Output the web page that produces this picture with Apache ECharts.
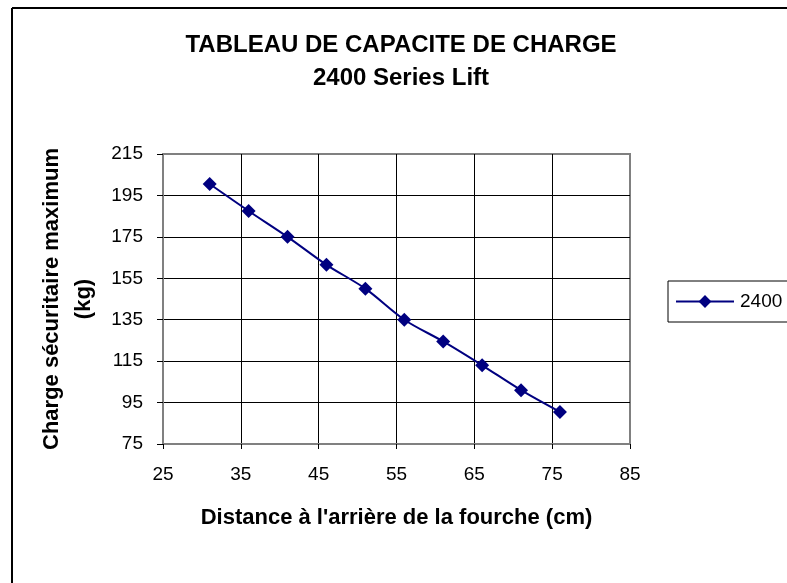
<!DOCTYPE html>
<html lang="fr" style="height: 100%">
<head>
  <meta charset="utf-8">
</head>
<body style="height: 100%; margin: 0">
  <div id="container" style="width: 787px; height: 583px"></div>
  <script type="text/javascript" src="https://cdn.jsdelivr.net/npm/echarts@6/dist/echarts.min.js"></script>
  <script>
    // données
    var distances = [31, 36, 41, 46, 51, 56, 61, 66, 71, 76];
    var charge2400 = [200.5, 187.5, 175, 161.5, 150, 135, 124.5, 113, 101, 90.5];
    var seriesName = '2400';

    var dom = document.getElementById('container');
    var myChart = echarts.init(dom, null, { renderer: 'canvas' });

    var font = 'Liberation Sans, Arial, sans-serif';
    var points = distances.map(function (d, i) { return [d, charge2400[i]]; });

    var option = {
      animation: false,
      backgroundColor: '#fff',
      title: {
        text: 'TABLEAU DE CAPACITE DE CHARGE\n2400 Series Lift',
        left: 396,
        textAlign: 'center',
        top: 24,
        textStyle: {
          fontFamily: font,
          fontWeight: 'bold',
          fontSize: 24,
          lineHeight: 33,
          color: '#000'
        }
      },
      legend: {
        data: [seriesName],
        left: 668,
        top: 281,
        orient: 'vertical',
        borderColor: '#000',
        borderWidth: 1,
        padding: [11, 40, 11, 7],
        itemWidth: 58,
        itemHeight: 16,
        itemGap: 0,
        textStyle: { fontFamily: font, fontSize: 19, color: '#000', padding: [0, 0, 0, 1] }
      },
      grid: {
        left: 163,
        right: 157,
        top: 154,
        bottom: 139,
        show: true,
        borderColor: '#808080',
        borderWidth: 2,
        backgroundColor: '#fff'
      },
      xAxis: {
        type: 'value',
        min: 25,
        max: 85,
        interval: 10,
        name: "Distance à l'arrière de la fourche (cm)",
        nameLocation: 'middle',
        nameGap: 63,
        nameTextStyle: { fontFamily: font, fontWeight: 'bold', fontSize: 22, color: '#000' },
        axisLine: { show: true, lineStyle: { color: '#808080', width: 2 } },
        axisTick: { show: true, length: 5, lineStyle: { color: '#000' } },
        axisLabel: { fontFamily: font, fontSize: 19, color: '#000', margin: 21 },
        splitLine: { show: true, showMinLine: false, showMaxLine: false, lineStyle: { color: '#000', width: 1 } }
      },
      yAxis: {
        type: 'value',
        min: 75,
        max: 215,
        interval: 20,
        name: 'Charge sécuritaire maximum\n(kg)',
        nameLocation: 'middle',
        nameGap: 62,
        nameTextStyle: { fontFamily: font, fontWeight: 'bold', fontSize: 22, color: '#000', lineHeight: 32 },
        axisLine: { show: true, lineStyle: { color: '#808080', width: 2 } },
        axisTick: { show: true, length: 6, lineStyle: { color: '#000' } },
        axisLabel: { fontFamily: font, fontSize: 19, color: '#000', margin: 20 },
        splitLine: { show: true, showMinLine: false, showMaxLine: false, lineStyle: { color: '#000', width: 1 } }
      },
      graphic: [
        { type: 'line', shape: { x1: 12, y1: 8, x2: 787, y2: 8 }, style: { stroke: '#000', lineWidth: 2 } },
        { type: 'line', shape: { x1: 12, y1: 8, x2: 12, y2: 583 }, style: { stroke: '#000', lineWidth: 2 } }
      ],
      series: [
        {
          name: seriesName,
          type: 'line',
          data: points,
          smooth: 0.3,
          symbol: 'diamond',
          symbolSize: 14,
          itemStyle: { color: '#000080' },
          lineStyle: { color: '#000080', width: 2 }
        }
      ]
    };

    myChart.setOption(option);
    window.addEventListener('resize', myChart.resize);
  </script>
</body>
</html>
